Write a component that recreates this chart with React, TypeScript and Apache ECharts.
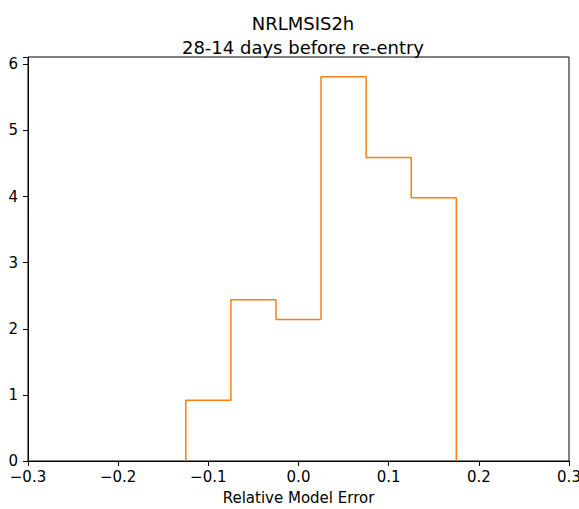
import React, { useEffect, useRef } from "react";
import * as echarts from "echarts";

const binEdges = [-0.125, -0.075, -0.025, 0.025, 0.075, 0.125, 0.175];
const density = [0.92, 2.44, 2.14, 5.81, 4.59, 3.98];
const xTicks = [-0.3, -0.2, -0.1, 0.0, 0.1, 0.2, 0.3];
const titleLines = ["NRLMSIS2h", "28-14 days before re-entry"];
const xLabel = "Relative Model Error";

const FONT = "DejaVu Sans";

export default function App() {
  const ref = useRef<HTMLDivElement>(null);
  useEffect(() => {
    if (!ref.current) return;
    const chart = echarts.init(ref.current, null, { renderer: "svg" });
    const pts: number[][] = [[binEdges[0], 0]];
    density.forEach((v, i) => {
      pts.push([binEdges[i], v]);
      pts.push([binEdges[i + 1], v]);
    });
    pts.push([binEdges[binEdges.length - 1], 0]);
    const fmt = (v: number) => {
      const r = Math.round(v * 10) / 10;
      return (r < 0 ? "\u2212" : "") + Math.abs(r).toFixed(1);
    };
    chart.setOption({
      animation: false,
      backgroundColor: "#fff",
      title: {
        text: titleLines.join("\n"),
        left: 298,
        textAlign: "center",
        top: 6,
        textStyle: { fontFamily: FONT, fontSize: 18, fontWeight: "normal", color: "#000", lineHeight: 24 },
      },
      grid: {
        left: 28,
        right: 10,
        top: 57,
        bottom: 48,
        show: true,
        borderColor: "#000",
        borderWidth: 1,
        containLabel: false,
        outerBoundsMode: "none",
      },
      xAxis: {
        type: "value",
        min: xTicks[0],
        max: xTicks[xTicks.length - 1],
        interval: 0.1,
        name: xLabel,
        nameLocation: "middle",
        nameGap: 29,
        nameTextStyle: { fontFamily: FONT, fontSize: 15, color: "#000" },
        axisLine: { show: true, onZero: false, lineStyle: { color: "#000", width: 1 } },
        axisTick: { show: true, inside: false, length: 5, lineStyle: { color: "#000" } },
        axisLabel: { formatter: fmt, fontFamily: FONT, fontSize: 15, color: "#000", margin: 8, hideOverlap: false },
        splitLine: { show: false },
      },
      yAxis: {
        type: "value",
        min: 0,
        max: 6.11,
        interval: 1,
        axisLine: { show: true, onZero: false, lineStyle: { color: "#000", width: 1 } },
        axisTick: { show: true, inside: false, length: 5, lineStyle: { color: "#000" } },
        axisLabel: {
          fontFamily: FONT,
          fontSize: 15,
          color: "#000",
          margin: 10,
          formatter: (v: number) => (Math.abs(v - Math.round(v)) < 1e-6 ? String(Math.round(v)) : ""),
        },
        splitLine: { show: false },
      },
      series: [
        {
          type: "line",
          data: pts,
          symbol: "none",
          lineStyle: { color: "#ff7f0e", width: 1.5 },
          clip: true,
        },
      ],
    });
    return () => chart.dispose();
  }, []);
  return (
    <div
      ref={ref}
      style={{ width: 579, height: 509, position: "absolute", left: 0, top: 0 }}
    />
  );
}
